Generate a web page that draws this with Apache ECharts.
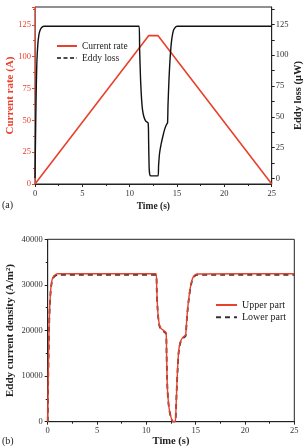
<!DOCTYPE html>
<html>
<head>
<meta charset="utf-8">
<script src="https://cdn.jsdelivr.net/npm/echarts@6/dist/echarts.min.js"></script>
<style>
  html, body { margin: 0; padding: 0; background: #fff; }
  #chart { width: 304px; height: 446px; }
</style>
</head>
<body>
<div id="chart"></div>
<script>
// (a) current ramp and eddy loss, time in seconds
const currentRate = [[0, 0], [12, 116.5], [13, 116.5], [25, 0]];
const eddyLoss = [
  [0, 0], [0.05, 30], [0.1, 58], [0.15, 80], [0.2, 95], [0.3, 109], [0.4, 116], [0.5, 119.5],
  [0.7, 122.5], [1.0, 123.5], [11.0, 123.5], [11.05, 105], [11.15, 80], [11.25, 65], [11.35, 56],
  [11.5, 50], [11.7, 46.5], [11.95, 45], [12.0, 30], [12.05, 10], [12.1, 4], [12.2, 2], [13.0, 2],
  [13.05, 10], [13.15, 20], [13.3, 27], [13.5, 34], [13.7, 40], [13.9, 44], [14.0, 45], [14.05, 60],
  [14.15, 80], [14.25, 95], [14.4, 110], [14.55, 118], [14.7, 121.5], [15.0, 123.5], [25, 123.5]
];
const leftTicksA = [0, 25, 50, 75, 100, 125];
const rightTicksA = [0, 25, 50, 75, 100, 125];
const rightMinorA = [0, 12.5, 25, 37.5, 50, 62.5, 75, 87.5, 100, 112.5, 125, 137.5];

// (b) eddy current density, A/m^2
const upperPart = [
  [0, 0], [0.05, 9000], [0.1, 16000], [0.15, 21500], [0.2, 25000], [0.3, 28800], [0.4, 30600],
  [0.5, 31500], [0.7, 32100], [1.0, 32450], [11.0, 32450], [11.05, 29500], [11.13, 25200],
  [11.22, 22800], [11.33, 21200], [11.5, 20400], [11.75, 20000], [12.0, 19500], [12.05, 15000],
  [12.1, 10000], [12.15, 6800], [12.25, 4000], [12.35, 2400], [12.5, 1000], [12.69, 0], [12.93, 0],
  [13.0, 2500], [13.1, 8300], [13.18, 12000], [13.26, 15000], [13.35, 16600], [13.5, 17800],
  [13.7, 18500], [13.94, 18900], [14.0, 19200], [14.1, 22500], [14.2, 25000], [14.28, 26600],
  [14.45, 29300], [14.62, 31000], [14.8, 31900], [15.1, 32400], [25, 32450]
];
const lowerPart = [
  [0, 0], [0.05, 8800], [0.1, 15800], [0.15, 21300], [0.2, 24800], [0.3, 28600], [0.4, 30400],
  [0.5, 31300], [0.7, 31900], [1.0, 32200], [11.0, 32200], [11.05, 29300], [11.13, 25000],
  [11.22, 22600], [11.33, 21000], [11.5, 20200], [11.75, 19800], [12.0, 19300], [12.05, 14800],
  [12.1, 9800], [12.15, 6600], [12.25, 3900], [12.35, 2300], [12.5, 900], [12.69, 0], [12.93, 0],
  [13.0, 2400], [13.1, 8100], [13.18, 11800], [13.26, 14800], [13.35, 16400], [13.5, 17600],
  [13.7, 18300], [13.94, 18700], [14.0, 19000], [14.1, 22300], [14.2, 24800], [14.28, 26400],
  [14.45, 29100], [14.62, 30800], [14.8, 31700], [15.1, 32200], [25, 32200]
];

const serif = "'Liberation Serif', 'Times New Roman', serif";
const red = '#e8412c';
const ink = '#222';

const chart = echarts.init(document.getElementById('chart'));

function timeAxis(gridIndex, nameSize, nameGap) {
  return {
    gridIndex: gridIndex,
    type: 'value',
    min: 0,
    max: 25,
    interval: 5,
    name: 'Time (s)',
    nameLocation: 'middle',
    nameGap: nameGap,
    nameMoveOverlap: false,
    nameTextStyle: { fontFamily: serif, fontWeight: 'bold', fontSize: nameSize, color: ink },
    axisLine: { lineStyle: { color: ink, width: 1 } },
    axisTick: { length: 3, lineStyle: { color: ink } },
    minorTick: { show: true, splitNumber: 2, length: 2, lineStyle: { color: ink } },
    axisLabel: { fontFamily: serif, fontSize: 8.5, color: '#333', margin: 5 },
    splitLine: { show: false }
  };
}

chart.setOption({
  animation: false,
  grid: [
    {
      left: 35, top: 7, width: 236.7, height: 177, outerBoundsMode: 'none', containLabel: false,
      show: true, borderColor: ink, borderWidth: 1
    },
    {
      left: 47.7, top: 239.3, width: 246.6, height: 182.4, outerBoundsMode: 'none', containLabel: false,
      show: true, borderColor: ink, borderWidth: 1
    }
  ],
  legend: [
    {
      orient: 'vertical',
      left: 56,
      top: 41,
      padding: 0,
      itemWidth: 20,
      itemHeight: 10,
      itemGap: 2,
      itemStyle: { opacity: 0 },
      textStyle: { fontFamily: serif, fontSize: 9.5, color: ink, lineHeight: 10 },
      data: [
        { name: 'Current rate' },
        { name: 'Eddy loss', lineStyle: { type: [4, 2.5], width: 1.4 } }
      ]
    },
    {
      orient: 'vertical',
      left: 215,
      top: 300,
      padding: 0,
      itemWidth: 21,
      itemHeight: 10,
      itemGap: 2.3,
      itemStyle: { opacity: 0 },
      textStyle: { fontFamily: serif, fontSize: 10, color: ink, lineHeight: 10 },
      data: ['Upper part', 'Lower part']
    }
  ],
  xAxis: [timeAxis(0, 9.5, 18), timeAxis(1, 10.5, 14.5)],
  yAxis: [
    {
      gridIndex: 0,
      type: 'value',
      min: 0,
      max: 139,
      interval: 25,
      name: 'Current rate (A)',
      nameLocation: 'middle',
      nameGap: 19.5,
      nameMoveOverlap: false,
      nameTextStyle: { fontFamily: serif, fontWeight: 'bold', fontSize: 11, color: red },
      axisLine: { show: true, lineStyle: { color: red, width: 1 } },
      axisTick: { show: true, length: 3, lineStyle: { color: red } },
      minorTick: { show: true, splitNumber: 2, length: 2, lineStyle: { color: red } },
      axisLabel: {
        fontFamily: serif, fontSize: 8.5, color: red, margin: 4,
        formatter: (v) => (leftTicksA.includes(v) ? String(v) : '')
      },
      splitLine: { show: false }
    },
    {
      gridIndex: 0,
      type: 'value',
      position: 'right',
      min: -4.6,
      max: 139.2,
      name: 'Eddy loss (μW)',
      nameLocation: 'middle',
      nameRotate: 90,
      nameGap: 21,
      nameMoveOverlap: false,
      nameTextStyle: { fontFamily: serif, fontWeight: 'bold', fontSize: 10.5, color: ink },
      axisLine: { show: true, lineStyle: { color: ink, width: 1 } },
      axisTick: { show: true, length: 3, customValues: rightMinorA, lineStyle: { color: ink } },
      axisLabel: {
        fontFamily: serif, fontSize: 8.5, color: '#333', margin: 4, customValues: rightTicksA,
        formatter: (v) => String(v)
      },
      splitLine: { show: false }
    },
    {
      gridIndex: 1,
      type: 'value',
      min: 0,
      max: 40000,
      interval: 10000,
      name: 'Eddy current density (A/m²)',
      nameLocation: 'middle',
      nameGap: 32,
      nameMoveOverlap: false,
      nameTextStyle: { fontFamily: serif, fontWeight: 'bold', fontSize: 11, color: ink },
      axisLine: { show: true, lineStyle: { color: ink, width: 1 } },
      axisTick: { show: true, length: 3, lineStyle: { color: ink } },
      minorTick: { show: true, splitNumber: 2, length: 2, lineStyle: { color: ink } },
      axisLabel: { fontFamily: serif, fontSize: 8.5, color: '#333', margin: 5, formatter: (v) => String(v) },
      splitLine: { show: false }
    }
  ],
  series: [
    {
      name: 'Current rate',
      type: 'line',
      xAxisIndex: 0,
      yAxisIndex: 0,
      symbol: 'none',
      data: currentRate,
      lineStyle: { color: red, width: 1.6 },
      itemStyle: { color: red }
    },
    {
      name: 'Eddy loss',
      type: 'line',
      xAxisIndex: 0,
      yAxisIndex: 1,
      symbol: 'none',
      smooth: 0.2,
      data: eddyLoss,
      lineStyle: { color: '#111', width: 1.4 },
      itemStyle: { color: '#111' }
    },
    {
      name: 'Lower part',
      type: 'line',
      xAxisIndex: 1,
      yAxisIndex: 2,
      symbol: 'none',
      smooth: 0.2,
      z: 2,
      data: lowerPart,
      lineStyle: { color: '#333', width: 1.8, type: [5, 4] },
      itemStyle: { color: '#333' }
    },
    {
      name: 'Upper part',
      type: 'line',
      xAxisIndex: 1,
      yAxisIndex: 2,
      symbol: 'none',
      smooth: 0.2,
      z: 3,
      data: upperPart,
      lineStyle: { color: red, width: 1.4 },
      itemStyle: { color: red }
    }
  ],
  graphic: [
    { type: 'text', left: 2, top: 200, style: { text: '(a)', font: '10px ' + serif, fill: ink } },
    { type: 'text', left: 2, top: 436, style: { text: '(b)', font: '10px ' + serif, fill: ink } }
  ]
});
</script>
</body>
</html>
